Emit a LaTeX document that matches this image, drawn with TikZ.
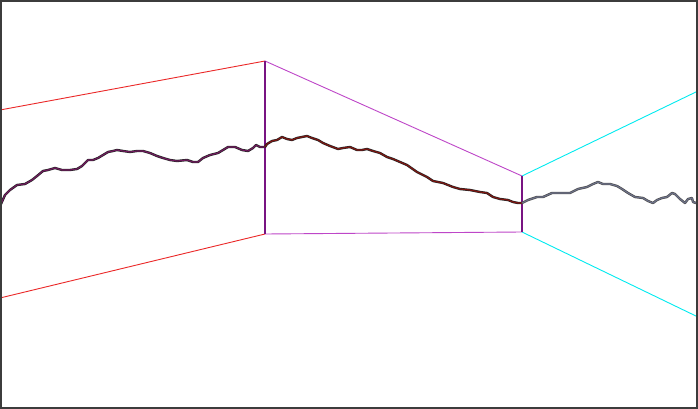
\documentclass[tikz,border=0pt]{standalone}
\definecolor{cRed}{RGB}{235,40,40}
\definecolor{cMag}{RGB}{190,70,200}
\definecolor{cCyan}{RGB}{0,235,240}
\definecolor{cVert}{RGB}{120,20,130}
\definecolor{cWalkA}{RGB}{115,25,95}
\definecolor{cWalkB}{RGB}{130,20,15}
\definecolor{cWalkC}{RGB}{110,115,140}
\definecolor{cFrame}{RGB}{60,60,60}
\begin{document}
\begin{tikzpicture}[x=1pt,y=-1pt,
  frame/.style={draw=cFrame,line width=1.6pt},
  redline/.style={draw=cRed,line width=0.9pt},
  magline/.style={draw=cMag,line width=0.9pt},
  cyanline/.style={draw=cCyan,line width=0.9pt},
  vline/.style={draw=cVert,line width=1.6pt},
  walkbase/.style={draw=black!85,line width=2.4pt,line join=round,line cap=round},
  walkA/.style={draw=cWalkA,line width=1.1pt,line join=round},
  walkB/.style={draw=cWalkB,line width=1.1pt,line join=round},
  walkC/.style={draw=cWalkC,line width=1.1pt,line join=round}]
\useasboundingbox (0,0) rectangle (698,409);
\fill[white] (0,0) rectangle (698,409);
% corners
\coordinate (LT) at (0,110);
\coordinate (LB) at (0,298);
\coordinate (AT) at (265,61);
\coordinate (AB) at (265,234);
\coordinate (BT) at (522,176);
\coordinate (BB) at (522,232);
\coordinate (RT) at (698,91);
\coordinate (RB) at (698,317);
\draw[redline] (LT) -- (AT);
\draw[redline] (LB) -- (AB);
\draw[magline] (AT) -- (BT);
\draw[magline] (AB) -- (BB);
\draw[cyanline] (BT) -- (RT);
\draw[cyanline] (BB) -- (RB);
\draw[vline] (AT) -- (AB);
\draw[vline] (BT) -- (BB);
% random walk
\def\walkA{(1,204) (5,195) (10,190) (17,185) (25,184) (32,180) (37,176) (43,171) (48,170) (55,168) (62,170) (70,170) (77,169) (82,166) (88,160) (93,160) (98,158) (103,155) (108,152) (113,151) (117,150) (123,151) (130,152) (137,151) (143,151) (150,153) (157,156) (163,158) (170,160) (177,161) (187,160) (193,162) (198,162) (203,158) (210,155) (218,153) (223,150) (228,147) (235,147) (242,150) (248,151) (253,148) (256,145) (260,147) (265,147)}
\def\walkB{(265,147) (267,144) (272,141) (277,140) (282,137) (287,139) (292,140) (297,138) (302,137) (307,136) (312,138) (318,140) (323,143) (330,146) (338,149) (343,148) (350,147) (357,150) (362,150) (367,149) (373,151) (380,153) (387,157) (393,159) (400,162) (407,165) (417,172) (427,177) (433,181) (443,183) (453,187) (460,189) (470,190) (480,192) (487,193) (493,197) (500,199) (508,200) (513,202) (518,203) (522,203)}
\def\walkC{(522,203) (528,200) (537,197) (543,197) (552,193) (560,193) (570,193) (578,189) (587,187) (593,184) (598,182) (603,184) (610,184) (617,186) (622,189) (628,193) (635,197) (643,198) (648,201) (653,203) (657,200) (662,198) (667,197) (672,193) (675,194) (680,199) (685,203) (688,199) (692,198) (693,202) (696,203)}
\draw[walkbase] plot coordinates \walkA;
\draw[walkbase] plot coordinates \walkB;
\draw[walkbase,draw=black!70] plot coordinates \walkC;
\draw[walkA] plot coordinates \walkA;
\draw[walkB] plot coordinates \walkB;
\draw[walkC] plot coordinates \walkC;
\draw[frame] (0.8,0.8) rectangle (697.2,408.2);
\end{tikzpicture}
\end{document}
